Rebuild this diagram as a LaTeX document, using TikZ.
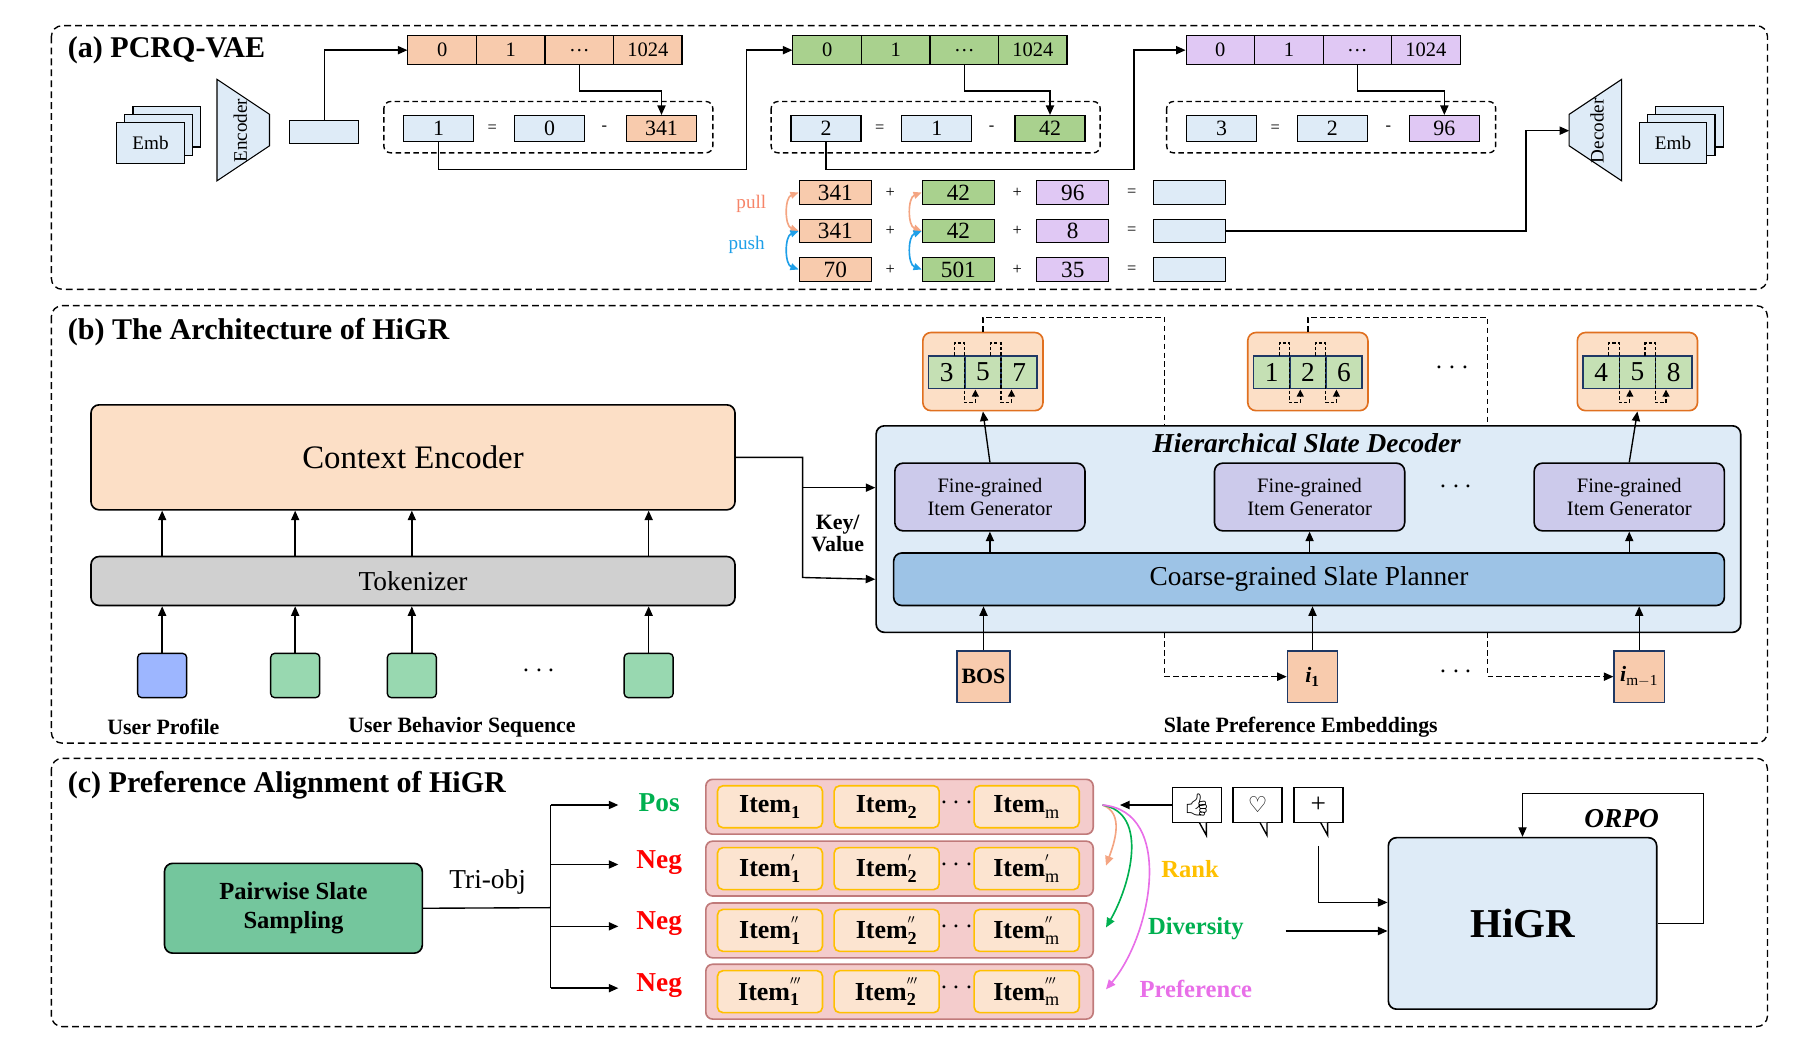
\documentclass[tikz,border=0pt]{standalone}
\usepackage{fontspec}
\setmainfont{Liberation Serif}
\newfontfamily\symfont{DejaVu Sans}
\newfontfamily\emojifont{Noto Emoji}
\usetikzlibrary{arrows.meta,positioning,calc}
\definecolor{orgC}{HTML}{F8CBAD}
\definecolor{grnC}{HTML}{A9D18E}
\definecolor{purC}{HTML}{E0C8F4}
\definecolor{bluC}{HTML}{DEEBF7}
\definecolor{planC}{HTML}{9DC3E6}
\definecolor{fineC}{HTML}{CCCAEB}
\definecolor{tokC}{HTML}{D0D0D0}
\definecolor{encC}{HTML}{FCDFC6}
\definecolor{inG}{HTML}{98D8B0}
\definecolor{inB}{HTML}{9DB6FF}
\definecolor{pairC}{HTML}{74C69D}
\definecolor{rowC}{HTML}{F4CCCC}
\definecolor{rowD}{HTML}{C07A7A}
\definecolor{itemC}{HTML}{FCE4D0}
\definecolor{itemD}{HTML}{FFC000}
\definecolor{outD}{HTML}{E07020}
\definecolor{cellG}{HTML}{C5E0B4}
\definecolor{cellD}{HTML}{1F3864}
\definecolor{pullC}{HTML}{F4A582}
\definecolor{pushC}{HTML}{1E9FE8}
\definecolor{rankC}{HTML}{FFC000}
\definecolor{divC}{HTML}{00B050}
\definecolor{prefC}{HTML}{E86FE8}

\tikzset{
  sect/.style={draw,line width=1pt,rounded corners=8pt,dash pattern=on 5pt off 3pt},
  title/.style={anchor=west,font=\fontsize{22}{22}\selectfont\bfseries},
  cbcell/.style={draw,line width=0.8pt,minimum width=1.76cm,minimum height=0.75cm,inner sep=0pt,font=\fontsize{15}{15}\selectfont},
  rescell/.style={draw,line width=0.8pt,minimum width=1.8cm,minimum height=0.66cm,inner sep=0pt,font=\fontsize{16}{16}\selectfont},
  sumcell/.style={draw,line width=0.8pt,minimum width=1.86cm,minimum height=0.6cm,inner sep=0pt,font=\fontsize{17}{17}\selectfont},
  op/.style={font=\fontsize{12}{12}\selectfont},
  conn/.style={line width=1pt,-{Triangle[length=7pt,width=6pt]}},
  plain/.style={line width=1pt},
  bigbox/.style={draw,line width=1.2pt,rounded corners=6pt},
  inbox/.style={draw,line width=1pt,rounded corners=3pt,minimum width=1.26cm,minimum height=1.14cm},
  finebox/.style={bigbox,fill=fineC,minimum width=4.89cm,minimum height=1.74cm,align=center,font=\fontsize{15}{17}\selectfont},
  outbox/.style={draw=outD,line width=1.2pt,rounded corners=6pt,fill=encC,minimum width=3.09cm,minimum height=2.01cm},
  ocell/.style={draw=cellD,line width=1.2pt,fill=cellG,minimum width=0.93cm,minimum height=0.84cm,inner sep=0pt,font=\fontsize{20}{20}\selectfont},
  slatein/.style={draw=cellD,line width=1pt,fill=orgC,minimum width=1.29cm,minimum height=1.32cm,font=\fontsize{16}{16}\selectfont\bfseries},
  rowbox/.style={draw=rowD,line width=1.2pt,rounded corners=5pt,fill=rowC,minimum width=9.96cm,minimum height=1.41cm},
  itembox/.style={draw=itemD,line width=1.2pt,rounded corners=4pt,fill=itemC,minimum width=2.7cm,minimum height=1.08cm,inner sep=0pt,font=\fontsize{19}{19}\selectfont\bfseries},
  bubble/.style={draw,line width=1pt,minimum width=1.26cm,minimum height=0.9cm,inner sep=0pt},
  lab/.style={font=\fontsize{16}{16}\selectfont\bfseries},
  dots/.style={font=\fontsize{22}{22}\selectfont\bfseries},
  dd/.style={line width=1pt,dash pattern=on 4pt off 2.5pt},
}

\begin{document}
\begin{tikzpicture}[x=0.03cm,y=-0.03cm]
\useasboundingbox (0,0) rectangle (1560,902);

% ---------------- (a) PCRQ-VAE ----------------
\draw[sect] (44,22) rectangle (1515,248);
\node[title] (ta) at (54,43) {(a) PCRQ-VAE};

\foreach \k in {2,1} \draw[line width=0.8pt,fill=bluC] (100+7*\k,105-7*\k) rectangle (158+7*\k,140-7*\k);
\node[draw,line width=0.8pt,fill=bluC,minimum width=1.74cm,minimum height=1.05cm,font=\fontsize{14}{14}\selectfont] (embL) at (129,122.5) {Emb};
\draw[line width=0.8pt,fill=bluC] (186,68) -- (231,98) -- (231,125) -- (186,155) -- cycle;
\node[rotate=90,font=\fontsize{14}{14}\selectfont] (enc) at (206,112) {Encoder};
\node[draw,line width=0.8pt,fill=bluC,minimum width=1.77cm,minimum height=0.6cm] (qv) at (278,113) {};

% codebooks
\foreach \i/\t in {1/0,2/1,3/\ldots,4/1024} {
  \node[cbcell,fill=orgC] (ca\i) at (320.25+58.75*\i,43) {\t};
  \node[cbcell,fill=grnC] (cb\i) at (650.25+58.75*\i,43) {\t};
  \node[cbcell,fill=purC] (cc\i) at (987.25+58.75*\i,43) {\t};
}

% residual steps
\draw[dd,rounded corners=5pt] (329,87) rectangle (611,131);
\node[rescell,fill=bluC] (ra1) at (376,110) {1};
\node[op] at (422,110) {=};
\node[rescell,fill=bluC] (ra2) at (471,110) {0};
\node[op] at (518,110) {-};
\node[rescell,fill=orgC] (ra3) at (567,110) {341};

\draw[dd,rounded corners=5pt] (661,87) rectangle (943,131);
\node[rescell,fill=bluC] (rb1) at (708,110) {2};
\node[op] at (754,110) {=};
\node[rescell,fill=bluC] (rb2) at (803,110) {1};
\node[op] at (850,110) {-};
\node[rescell,fill=grnC] (rb3) at (900,110) {42};

\draw[dd,rounded corners=5pt] (1000,87) rectangle (1282,131);
\node[rescell,fill=bluC] (rc1) at (1047,110) {3};
\node[op] at (1093,110) {=};
\node[rescell,fill=bluC] (rc2) at (1142,110) {2};
\node[op] at (1190,110) {-};
\node[rescell,fill=purC] (rc3) at (1238,110) {96};

\draw[conn] (qv.north) |- (ca1.west);
\draw[conn] (ca3.south) -- ++(0,22) -| (ra3.north);
\draw[conn] (cb3.south) -- ++(0,22) -| (rb3.north);
\draw[conn] (cc3.south) -- ++(0,22) -| (rc3.north);
\draw[conn] (ra1.south) -- ++(0,24) -| (640,43) -- (cb1.west);
\draw[conn] (rb1.south) -- ++(0,24) -| (972,43) -- (cc1.west);

% sums
\foreach \a/\b/\c/\r in {341/42/96/1,341/42/8/2,70/501/35/3} {
  \node[sumcell,fill=orgC] (so\r) at (716,132+33*\r) {\a};
  \node[op] at (763,132+33*\r) {+};
  \node[sumcell,fill=grnC] (sg\r) at (821.5,132+33*\r) {\b};
  \node[op] at (872,132+33*\r) {+};
  \node[sumcell,fill=purC] (sp\r) at (919.5,132+33*\r) {\c};
  \node[op] at (970,132+33*\r) {=};
  \node[sumcell,fill=bluC] (ss\r) at (1019.5,132+33*\r) {};
}
\draw[{Triangle[length=6pt,width=5pt]}-{Triangle[length=6pt,width=5pt]},pullC,line width=1.2pt] (so1.west) to[bend right=70] (so2.west);
\draw[{Triangle[length=6pt,width=5pt]}-{Triangle[length=6pt,width=5pt]},pushC,line width=1.2pt] (so2.west) to[bend right=70] (so3.west);
\draw[{Triangle[length=6pt,width=5pt]}-{Triangle[length=6pt,width=5pt]},pullC,line width=1.2pt] (sg1.west) to[bend right=70] (sg2.west);
\draw[{Triangle[length=6pt,width=5pt]}-{Triangle[length=6pt,width=5pt]},pushC,line width=1.2pt] (sg2.west) to[bend right=70] (sg3.west);
\node[text=pullC!80!red,font=\fontsize{14}{14}\selectfont] (pl) at (644,175) {pull};
\node[text=pushC,font=\fontsize{14}{14}\selectfont] (ps) at (640,210) {push};

% decoder
\draw[line width=0.8pt,fill=bluC] (1345,98) -- (1390,68) -- (1390,155) -- (1345,125) -- cycle;
\node[rotate=90,font=\fontsize{14}{14}\selectfont] (dcd) at (1369,112) {Decoder};
\coordinate (decin) at (1345,112);
\draw[conn] (ss2.east) -| (1308,112) -- (decin);
\foreach \k in {2,1} \draw[line width=0.8pt,fill=bluC] (1405+7*\k,105-7*\k) rectangle (1463+7*\k,140-7*\k);
\node[draw,line width=0.8pt,fill=bluC,minimum width=1.74cm,minimum height=1.05cm,font=\fontsize{14}{14}\selectfont] (embR) at (1434,122.5) {Emb};

% ---------------- (b) Architecture ----------------
\draw[sect] (44,262) rectangle (1515,637);
\node[title] (tb) at (54,285) {(b) The Architecture of HiGR};

\node[bigbox,fill=encC,minimum width=16.56cm,minimum height=2.7cm,font=\fontsize{24}{24}\selectfont] (ce) at (354,392) {Context Encoder};
\node[bigbox,fill=tokC,minimum width=16.56cm,minimum height=1.26cm,font=\fontsize{20}{20}\selectfont] (tok) at (354,498) {Tokenizer};
\node[inbox,fill=inB] (in1) at (139,579) {};
\node[inbox,fill=inG] (in2) at (253,579) {};
\node[inbox,fill=inG] (in3) at (353,579) {};
\node[dots] (ind) at (462,575) {$\cdots$};
\node[inbox,fill=inG] (in4) at (556,579) {};
\foreach \n in {in1,in2,in3,in4} {
  \draw[conn] (\n.north) -- (tok.south -| \n);
  \draw[conn] (tok.north -| \n) -- (ce.south -| \n);
}
\node[lab] (up) at (140,623) {User Profile};
\node[lab] (ubs) at (396,623) {User Behavior Sequence};

\node[bigbox,fill=bluC,minimum width=22.23cm,minimum height=5.31cm] (dec) at (1121.5,453.5) {};
\node[font=\fontsize{20}{20}\selectfont\bfseries\itshape] (dect) at (1120,380) {Hierarchical Slate Decoder};
\node[finebox] (fg1) at (848.5,426) {Fine-grained\\Item Generator};
\node[finebox] (fg2) at (1122.5,426) {Fine-grained\\Item Generator};
\node[dots] (fgd) at (1248,418) {$\cdots$};
\node[finebox] (fg3) at (1396.5,426) {Fine-grained\\Item Generator};
\node[bigbox,fill=planC,minimum width=21.36cm,minimum height=1.35cm,font=\fontsize{20}{20}\selectfont] (plan) at (1122,496.5) {Coarse-grained Slate Planner};

\coordinate (kvj) at (688,418);
\draw[conn] (ce.east) -| (688,495) -- (dec.west |- plan);
\draw[conn] (kvj) -- (dec.west |- kvj);
\node[lab,align=center] (kv) at (718,457) {Key/\\Value};

% outputs
\foreach \c/\a/\b/\d/\k in {842.5/3/5/7/1,1121/1/2/6/2,1403.5/4/5/8/3} {
  \node[outbox] (ob\k) at (\c,318.5) {};
  \node[ocell] (oa\k) at (\c-31,319) {\a};
  \node[ocell] (om\k) at (\c,319) {\b};
  \node[ocell] (oz\k) at (\c+31,319) {\d};
  \foreach \bx in {-15.5,15.5} {
    \draw[line width=0.8pt,dash pattern=on 2.5pt off 1.5pt] (\c+\bx-9,305) -- (\c+\bx-9,294) -- (\c+\bx,294) -- (\c+\bx,345) -- (\c+\bx+9,345);
    \draw[line width=0.8pt,dash pattern=on 2.5pt off 1.5pt,-{Triangle[length=5pt,width=5pt]}] (\c+\bx+9,345) -- (\c+\bx+9,334);
  }
}
\node[dots] (obd) at (1245,316) {$\cdots$};
\draw[conn] (fg1.north) -- (ob1.south);
\draw[conn] (fg3.north) -- (ob3.south);
\draw[conn] (plan.north -| fg1) -- (fg1.south);
\draw[conn] (plan.north -| fg2) -- (fg2.south);
\draw[conn] (plan.north -| fg3) -- (fg3.south);

% slate preference embeddings
\node[slatein] (bos) at (843,580) {BOS};
\node[slatein] (i1) at (1125,580) {\textit{i}$_{\mathbf 1}$};
\node[dots] (sid) at (1248,576) {$\cdots$};
\node[slatein,inner sep=0pt] (im) at (1405,580) {\textit{i}$_{\mathrm{m-1}}$};
\foreach \n in {bos,i1,im} \draw[conn] (\n.north) -- (plan.south -| \n);
\node[lab] (spe) at (1115,623) {Slate Preference Embeddings};

\draw[dd] (ob1.north) |- (998,272) -- (998,365);
\draw[dd,-{Triangle[length=7pt,width=6pt]}] (998,542) |- (i1.west);
\draw[dd] (ob2.north) |- (1275,272) -- (1275,365);
\draw[dd,-{Triangle[length=7pt,width=6pt]}] (1275,542) |- (im.west);

% ---------------- (c) Preference Alignment ----------------
\draw[sect] (44,650) rectangle (1515,880);
\node[title] (tc) at (54,673) {(c) Preference Alignment of HiGR};

\node[bigbox,fill=pairC,minimum width=6.63cm,minimum height=2.31cm,align=center,font=\fontsize{18}{21}\selectfont\bfseries] (pss) at (251.5,778.5) {Pairwise Slate\\Sampling};
\coordinate (tj) at (472,778);
\draw[plain] (pss.east) -- (tj);
\node[font=\fontsize{20}{20}\selectfont] (tri) at (418,756) {Tri-obj};
\draw[plain] (472,690) -- (472,847);
\foreach \y/\t/\c/\k in {690/Pos/divC/1,741/Neg/red/2,794/Neg/red/3,847/Neg/red/4} {
  \coordinate (tb\k) at (472,\y);
  \draw[conn] (tb\k) -- ++(58,0);
  \node[text=\c,font=\fontsize{20}{20}\selectfont\bfseries] (pn\k) at (565,\y-2) {\t};
}

\foreach \y/\p/\k in {691.5//1,744.5/'/2,797.5/''/3,850/'''/4} {
  \node[rowbox] (row\k) at (771,\y) {};
  \node[itembox] (ia\k) at (660,\y) {Item$^{\p}_{\mathbf 1}$};
  \node[itembox] (ib\k) at (760,\y) {Item$^{\p}_{\mathbf 2}$};
  \node[dots] (id\k) at (820,\y-3) {$\cdots$};
  \node[itembox] (ic\k) at (880,\y) {Item$^{\p}_{\mathrm m}$};
}

% feedback
\node[bubble] (bb1) at (1026,690) {\emojifont\fontsize{16}{16}\selectfont 👍};
\node[bubble] (bb2) at (1078,690) {\symfont\fontsize{16}{16}\selectfont ♡};
\node[bubble] (bb3) at (1130,690) {\fontsize{20}{20}\selectfont +};
\foreach \x in {1026,1078,1130} \draw[line width=1pt,fill=white] (\x+2,705) -- (\x+8,716) -- (\x+8,705);
\coordinate (fbto) at (960,690);
\draw[conn] (bb1.west) -- (fbto);

\coordinate (rk) at (945,690);
\draw[pullC,line width=1.2pt,-{Triangle[length=7pt,width=6pt]}] (rk) to[out=-20,in=70] (948,742);
\draw[divC,line width=1.2pt,-{Triangle[length=7pt,width=6pt]}] (rk) to[out=-10,in=60] (948,795);
\draw[prefC,line width=1.2pt,-{Triangle[length=7pt,width=6pt]}] (rk) to[out=-5,in=50] (948,848);
\node[text=rankC,font=\fontsize{18}{18}\selectfont\bfseries] (rkl) at (1020,745) {Rank};
\node[text=divC,font=\fontsize{18}{18}\selectfont\bfseries] (dvl) at (1025,796) {Diversity};
\node[text=prefC,font=\fontsize{18}{18}\selectfont\bfseries] (pfl) at (1025,848) {Preference};

\node[bigbox,fill=bluC,minimum width=6.9cm,minimum height=4.41cm,font=\fontsize{30}{30}\selectfont\bfseries] (hg) at (1305,791.5) {HiGR};
\coordinate (fbin) at (1130,725);
\draw[conn] (fbin) |- ($(hg.west)+(0,-18)$);
\coordinate (dvin) at (1102,798);
\draw[conn] (dvin) -- (hg.west |- dvin);
\draw[conn] (hg.east) -| (1460,680) -| (hg.north);
\node[font=\fontsize{20}{20}\selectfont\bfseries\itshape] (orpo) at (1390,702) {ORPO};
\end{tikzpicture}
\end{document}
